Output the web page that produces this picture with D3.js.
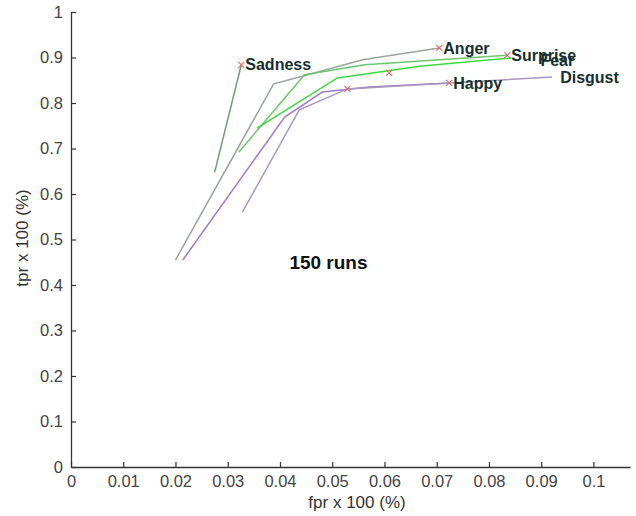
<!DOCTYPE html>
<html>
<head>
<meta charset="utf-8">
<script src="https://cdn.jsdelivr.net/npm/d3@7"></script>
<style>
  body { margin: 0; background: #fff; }
  svg { display: block; font-family: "Liberation Sans", Arial, sans-serif; }
</style>
</head>
<body>
<div id="chart"></div>
<script>
// Emotion ROC curves (fpr vs tpr), one polyline per class.
const emotions = ["Sadness", "Anger", "Surprise", "Fear", "Happy", "Disgust"]

const fprValues = [
  [0.0275, 0.0326],
  [0.0200, 0.0388, 0.0443, 0.0558, 0.0705],
  [0.0321, 0.0447, 0.0562, 0.0835],
  [0.0356, 0.0510, 0.0667, 0.0843],
  [0.0214, 0.0409, 0.0481, 0.0571, 0.0724],
  [0.0328, 0.0437, 0.0529, 0.0921]
]
const tprValues = [
  [0.648, 0.884],
  [0.455, 0.842, 0.859, 0.895, 0.921],
  [0.692, 0.862, 0.884, 0.905],
  [0.745, 0.855, 0.881, 0.899],
  [0.455, 0.769, 0.824, 0.835, 0.844],
  [0.560, 0.785, 0.831, 0.857]
]

// Operating point (red x) for each emotion.
const markFpr = [0.0326, 0.0705, 0.0835, 0.0609, 0.0724, 0.0529]
const markTpr = [0.884, 0.921, 0.905, 0.866, 0.844, 0.831]

const xTickValues = [0, 0.01, 0.02, 0.03, 0.04, 0.05, 0.06, 0.07, 0.08, 0.09, 0.1]
const yTickValues = [0, 0.1, 0.2, 0.3, 0.4, 0.5, 0.6, 0.7, 0.8, 0.9, 1]

const xLabel = "fpr x 100 (%)"
const yLabel = "tpr x 100 (%)"
const noteText = "150 runs"
const noteFpr = 0.0418
const noteTpr = 0.45

const width = 636
const height = 516
const colours = ["#6c9f72", "#9aa49c", "#6cc66c", "#3ed83e", "#a07cc8", "#a898c2"]
// a couple of labels sit off the end of their line: [dx, dy]
// (Fear overlaps Surprise in the original figure too)
const labelShift = {Fear: [25, 2], Disgust: [4, 0]}

const svg = d3.select("#chart")
  .append("svg")
  .attr("width", width)
  .attr("height", height)

const xScale = d3.scaleLinear().domain([0, 0.107]).range([71, 630])
const yScale = d3.scaleLinear().domain([0, 1]).range([467, 12])

/**
 * Draws both axes, MATLAB style: ticks pointing into the plot.
 */
const drawAxes = () => {
  const xAxis = d3.axisBottom(xScale)
    .tickValues(xTickValues)
    .tickFormat(d3.format("~g"))
    .tickSizeInner(-5)
    .tickSizeOuter(0)
    .tickPadding(8)
  const yAxis = d3.axisLeft(yScale)
    .tickValues(yTickValues)
    .tickFormat(d3.format("~g"))
    .tickSizeInner(-5)
    .tickSizeOuter(0)
    .tickPadding(8)

  const gx = svg.append("g")
    .attr("transform", "translate(0," + yScale(0) + ")")
    .call(xAxis)
  const gy = svg.append("g")
    .attr("transform", "translate(" + xScale(0) + ",0)")
    .call(yAxis)

  for (const g of [gx, gy]) {
    g.select(".domain").attr("stroke", "#333").attr("stroke-width", 1.3)
    g.selectAll(".tick line").attr("stroke", "#333").attr("stroke-width", 1.2)
    g.selectAll(".tick text")
      .attr("fill", "#444")
      .style("font-size", "16.5px")
      .style("font-family", "'Liberation Sans', Arial, sans-serif")
  }

  svg.append("text")
    .attr("x", 357)
    .attr("y", 508)
    .attr("text-anchor", "middle")
    .attr("fill", "#333")
    .style("font-size", "17px")
    .text(xLabel)

  svg.append("text")
    .attr("transform", "translate(28,238) rotate(-90)")
    .attr("text-anchor", "middle")
    .attr("fill", "#333")
    .style("font-size", "17px")
    .text(yLabel)
}

/**
 * Draws the curves, the red operating-point crosses and the class labels.
 */
const drawCurves = () => {
  const line = d3.line()
    .x(d => xScale(d[0]))
    .y(d => yScale(d[1]))

  emotions.forEach((name, i) => {
    const pts = fprValues[i].map((f, j) => [f, tprValues[i][j]])
    svg.append("path")
      .datum(pts)
      .attr("d", line)
      .attr("fill", "none")
      .attr("stroke", colours[i])
      .attr("stroke-width", 1.5)
  })

  emotions.forEach((name, i) => {
    const cx = xScale(markFpr[i])
    const cy = yScale(markTpr[i])
    const s = 3
    svg.append("path")
      .attr("d", "M" + (cx - s) + "," + (cy - s) + "L" + (cx + s) + "," + (cy + s) +
        "M" + (cx - s) + "," + (cy + s) + "L" + (cx + s) + "," + (cy - s))
      .attr("stroke", "#e06a6a")
      .attr("stroke-width", 1.1)
  })

  emotions.forEach((name, i) => {
    const last = fprValues[i].length - 1
    const shift = labelShift[name] || [0, 0]
    svg.append("text")
      .attr("x", xScale(fprValues[i][last]) + 4 + shift[0])
      .attr("y", yScale(tprValues[i][last]) + shift[1])
      .attr("dy", "0.35em")
      .attr("fill", "#163030")
      .style("font-size", "16px")
      .style("font-weight", "bold")
      .text(name)
  })

  svg.append("text")
    .attr("x", xScale(noteFpr))
    .attr("y", yScale(noteTpr))
    .attr("dy", "0.35em")
    .attr("fill", "#111")
    .style("font-size", "19px")
    .style("font-weight", "bold")
    .text(noteText)
}

drawAxes()
drawCurves()
</script>
</body>
</html>
